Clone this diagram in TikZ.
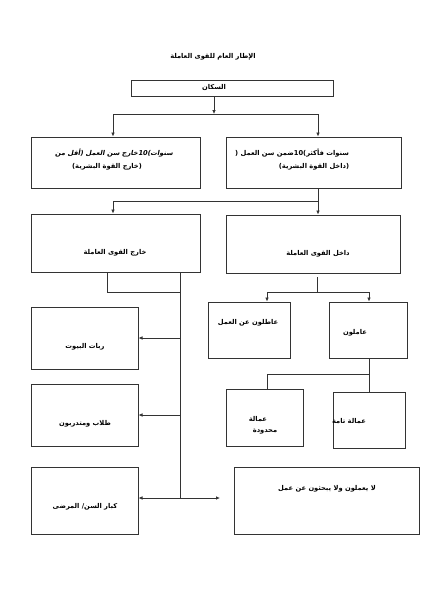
\documentclass[tikz,border=0pt]{standalone}
\usepackage{fontspec}
\usetikzlibrary{arrows.meta,fit}
\TeXXeTstate=1
\newfontfamily\arabicfont[Script=Arabic]{DejaVu Sans}
\newfontfamily\arabicsl[Script=Arabic,FakeSlant=0.2]{DejaVu Sans}
\newcommand\ar[1]{\beginR#1\endR}
\tikzset{
  box/.style={draw=black!80, line width=1pt, inner sep=0pt},
  lbl/.style={font=\arabicfont\bfseries\fontsize{6.7}{8}\selectfont, inner sep=0pt, text=black},
  lblsl/.style={font=\arabicsl\bfseries\fontsize{6.7}{8}\selectfont, inner sep=0pt, text=black},
  conn/.style={draw=black!80, line width=0.75pt},
  arr/.style={conn, -{Latex[length=4pt,width=3.6pt]}},
  darr/.style={conn, {Latex[length=4pt,width=3.6pt]}-{Latex[length=4pt,width=3.6pt]}},
}
\begin{document}
\begin{tikzpicture}[x=1pt,y=-1pt]
\useasboundingbox[fill=white] (0,0) rectangle (424,600);
% boxes
\node[box, fit={(131,80) (333,96)}] (pop) {};
\node[box, fit={(31,137) (200,188)}] (out1) {};
\node[box, fit={(226,137) (401,188)}] (in1) {};
\node[box, fit={(31,214) (200,272)}] (outlf) {};
\node[box, fit={(226,215) (400,273)}] (inlf) {};
\node[box, fit={(208,302) (290,358)}] (unemp) {};
\node[box, fit={(329,302) (407,358)}] (emp) {};
\node[box, fit={(31,307) (138,369)}] (hw) {};
\node[box, fit={(31,384) (138,446)}] (st) {};
\node[box, fit={(31,467) (138,534)}] (eld) {};
\node[box, fit={(226,389) (303,446)}] (limited) {};
\node[box, fit={(333,392) (405,448)}] (full) {};
\node[box, fit={(234,467) (419,534)}] (nw) {};
% labels
\node[lbl] (ttl) at (213,57) {\ar{الإطار العام للقوى العاملة}};
\node[lbl] (popt) at (214,88) {\ar{السكان}};
\node[lblsl] (out1a) at (114,153) {\ar{خارج سن العمل (أقل من}10\ar{سنوات)}};
\node[lbl] (out1b) at (107,167) {\ar{(خارج القوة البشرية)}};
\node[lbl] (in1a) at (292,153) {\ar{ضمن سن العمل (}10\ar{سنوات فأكثر)}};
\node[lbl] (in1b) at (314,167) {\ar{(داخل القوة البشرية)}};
\node[lbl] (outlft) at (115,253) {\ar{خارج القوى العاملة}};
\node[lbl] (inlft) at (318,254) {\ar{داخل القوى العاملة}};
\node[lbl] (unempt) at (248,323) {\ar{عاطلون عن العمل}};
\node[lbl] (empt) at (355,333) {\ar{عاملون}};
\node[lbl] (hwt) at (85,347) {\ar{ربات البيوت}};
\node[lbl] (stt) at (85,424) {\ar{طلاب ومتدربون}};
\node[lbl] (eldt) at (85,507) {\ar{كبار السن/ المرضى}};
\node[lbl] (limt1) at (258,419) {\ar{عمالة}};
\node[lbl] (limt2) at (265,432) {\ar{محدودة}};
\node[lbl] (fullt) at (349,421) {\ar{عمالة تامة}};
\node[lbl] (nwt) at (327,489) {\ar{لا يعملون ولا يبحثون عن عمل}};
% connectors
\coordinate (j1) at (214,114);
\coordinate (j1l) at (113,114);
\coordinate (j1r) at (318,114);
\draw[arr] (pop.south -| j1) -- (j1);
\draw[conn] (j1l) -- (j1r);
\draw[arr] (j1l) -- (out1.north -| j1l);
\draw[arr] (j1r) -- (in1.north -| j1r);
\coordinate (j2l) at (113,201);
\coordinate (j2r) at (318,201);
\draw[conn] (in1.south -| j2r) -- (j2r) -- (j2l);
\draw[arr] (j2l) -- (outlf.north -| j2l);
\draw[arr] (j2r) -- (inlf.north -| j2r);
\coordinate (j3s) at (317,277);
\coordinate (j3) at (317,292);
\coordinate (j3l) at (267,292);
\coordinate (j3r) at (369,292);
\draw[conn] (j3s) -- (j3);
\draw[conn] (j3l) -- (j3r);
\draw[arr] (j3l) -- (unemp.north -| j3l);
\draw[arr] (j3r) -- (emp.north -| j3r);
\coordinate (j4) at (369,374);
\coordinate (j4l) at (267,374);
\draw[conn] (emp.south -| j4) -- (j4) -- (j4l) -- (limited.north -| j4l);
\draw[conn] (j4) -- (full.north -| j4);
\coordinate (j5a) at (107,292);
\coordinate (j5b) at (180,292);
\draw[conn] (outlf.south -| j5a) -- (j5a) -- (j5b);
\coordinate (v) at (180,498);
\coordinate (v1) at (180,338);
\coordinate (v2) at (180,415);
\coordinate (v3) at (220,498);
\draw[conn] (outlf.south -| v) -- (v);
\draw[arr] (v1) -- (hw.east |- v1);
\draw[arr] (v2) -- (st.east |- v2);
\draw[darr] (eld.east |- v) -- (v3);
\end{tikzpicture}
\end{document}
